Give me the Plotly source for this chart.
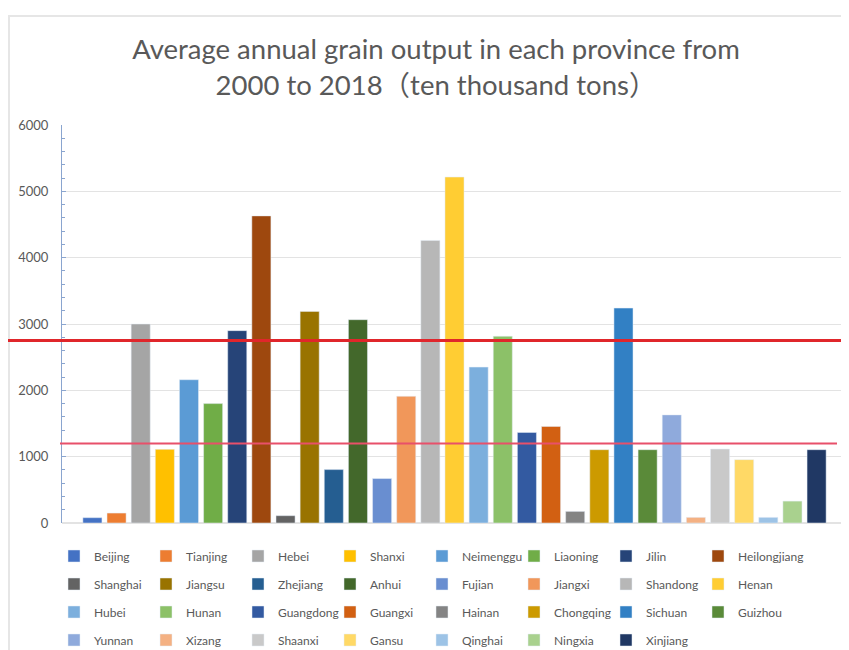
import plotly.graph_objects as go

provinces = ["Beijing", "Tianjing", "Hebei", "Shanxi", "Neimenggu", "Liaoning", "Jilin", "Heilongjiang",
             "Shanghai", "Jiangsu", "Zhejiang", "Anhui", "Fujian", "Jiangxi", "Shandong", "Henan",
             "Hubei", "Hunan", "Guangdong", "Guangxi", "Hainan", "Chongqing", "Sichuan", "Guizhou",
             "Yunnan", "Xizang", "Shaanxi", "Gansu", "Qinghai", "Ningxia", "Xinjiang"]
output = [80, 150, 3000, 1110, 2160, 1800, 2900, 4630,
          110, 3190, 805, 3065, 670, 1910, 4260, 5215,
          2350, 2815, 1365, 1455, 175, 1105, 3240, 1105,
          1630, 85, 1115, 955, 85, 330, 1105]
colors = ["#4472C4", "#ED7D31", "#A5A5A5", "#FFC000", "#5B9BD5", "#70AD47", "#264478", "#9E480E",
          "#636363", "#997300", "#255E91", "#43682B", "#698ED0", "#F1975A", "#B7B7B7", "#FFCD33",
          "#7CAFDD", "#8CC168", "#335AA1", "#D26012", "#848484", "#CC9A00", "#3280C4", "#5A8A39",
          "#8FAADC", "#F4B183", "#C9C9C9", "#FFD966", "#9DC3E6", "#A9D18E", "#203864"]
upper_line = 2750
lower_line = 1200

# page has an 8px body margin: figure coordinates = page coordinates - 8
OFF = 8
W, H = 849 - OFF, 650 - OFF
ML, MR, MT, MB = 62 - OFF, 2, 125 - OFF, 127
pw, ph = W - ML - MR, H - MT - MB

def px(x):  # page pixel -> paper x
    return (x - OFF - ML) / pw

def py(y):  # page pixel -> paper y
    return (H - MB - (y - OFF)) / ph

legend_ids = ["legend", "legend2", "legend3", "legend4"]
fig = go.Figure()
for i, (name, v, c) in enumerate(zip(provinces, output, colors)):
    lid = legend_ids[i // 8]
    if i == 7:
        lid = "legend5"  # last column of the first row (long label)
    fig.add_trace(go.Bar(x=[name], y=[v], name=name, marker_color=c, legend=lid))

FONT = "Lato, 'Noto Sans CJK SC', sans-serif"
legend_common = dict(orientation="h", xanchor="left", yanchor="middle",
                     xref="container", yref="container",
                     font=dict(family=FONT, size=12, color="#595959"),
                     entrywidth=47, entrywidthmode="pixels", bgcolor="rgba(0,0,0,0)")
rows_y = [556, 584, 612, 640]
layout_legends = {}
for lid, ry in zip(legend_ids, rows_y):
    layout_legends[lid] = dict(legend_common, x=(54 - OFF) / W, y=1 - (ry - OFF) / H)
layout_legends["legend5"] = dict(legend_common, entrywidth=0, x=(698 - OFF) / W, y=1 - (556 - OFF) / H)

fig.update_layout(
    width=W, height=H,
    margin=dict(l=ML, r=MR, t=MT, b=MB, autoexpand=False),
    paper_bgcolor="white", plot_bgcolor="white",
    barmode="overlay", bargap=0.21,
    title=dict(text="Average annual grain output in each province from<br>2000 to 2018（ten thousand tons）",
               x=(436 - OFF) / W, xanchor="center", xref="container",
               y=1 - 51 / H, yanchor="top", yref="container",
               font=dict(family=FONT, size=27.5, color="#595959")),
    xaxis=dict(type="category", categoryorder="array", categoryarray=provinces,
               range=[-1.26, 31.26], showticklabels=False, showgrid=False,
               showline=False, zeroline=False, ticks=""),
    yaxis=dict(range=[0, 6000], dtick=1000, tickfont=dict(family=FONT, size=13, color="#595959"),
               showgrid=True, gridcolor="#e3e3e3", gridwidth=1,
               zeroline=True, zerolinecolor="#e3e3e3",
               showline=True, linecolor="#8aa5cf", linewidth=1,
               ticks="inside", ticklen=4, tickcolor="#8aa5cf",
               minor=dict(dtick=200, ticks="inside", ticklen=3, tickcolor="#8aa5cf"),
               ticklabelstandoff=10),
    **layout_legends,
)

# frame of the original chart area
fig.add_shape(type="line", xref="paper", yref="paper", x0=px(9), x1=px(9), y0=py(16), y1=py(660),
              line=dict(color="#e6e6e6", width=2))
fig.add_shape(type="line", xref="paper", yref="paper", x0=px(8), x1=px(860), y0=py(16), y1=py(16),
              line=dict(color="#e6e6e6", width=2))
# red reference lines
fig.add_shape(type="line", xref="paper", yref="y", x0=px(8), x1=px(860), y0=upper_line, y1=upper_line,
              line=dict(color="#e0262b", width=3), layer="above")
fig.add_shape(type="line", xref="paper", yref="y", x0=px(60), x1=px(837), y0=lower_line, y1=lower_line,
              line=dict(color="#e8506a", width=2), layer="above")

fig.write_html("out.html")
